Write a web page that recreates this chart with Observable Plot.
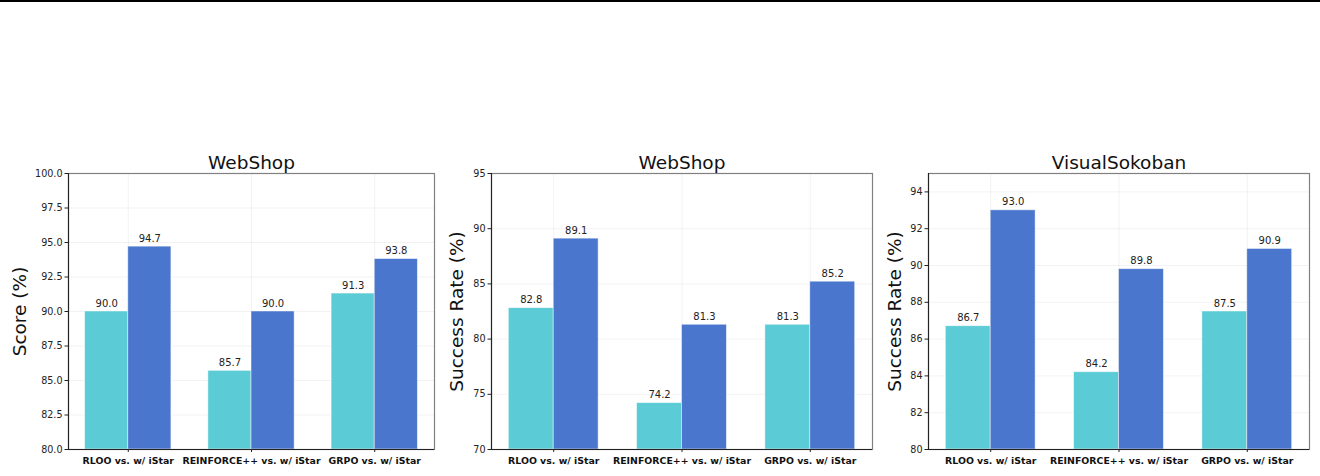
<!DOCTYPE html>
<html><head><meta charset="utf-8">
<script src="https://cdn.jsdelivr.net/npm/d3@7"></script>
<script src="https://cdn.jsdelivr.net/npm/@observablehq/plot@0.6"></script>
<style>
body{margin:0;background:#fff;font-family:"DejaVu Sans";width:1320px;height:476px;overflow:hidden;position:relative}
#topline{position:absolute;left:0;top:0;width:1320px;height:2px;background:#000}
.p{position:absolute;top:140px}
</style>
</head><body>
<div id="topline"></div>
<div id="c"></div>
<script>
const categories = ["RLOO vs. w/ iStar", "REINFORCE++ vs. w/ iStar", "GRPO vs. w/ iStar"];
const titles = ["WebShop", "WebShop", "VisualSokoban"];
const yLabels = ["Score (%)", "Success Rate (%)", "Success Rate (%)"];
const baselineValues = [[90.0, 85.7, 91.3], [82.8, 74.2, 81.3], [86.7, 84.2, 87.5]];
const iStarValues = [[94.7, 90.0, 93.8], [89.1, 81.3, 85.2], [93.0, 89.8, 90.9]];
const yDomains = [[80, 100], [70, 95], [80, 95]];
const yTicks = [[80, 82.5, 85, 87.5, 90, 92.5, 95, 97.5, 100], [70, 75, 80, 85, 90, 95], [80, 82, 84, 86, 88, 90, 92, 94]];
const yTickFormats = [".1f", "d", "d"];

const colors = ["#5bcbd5", "#4a77cd"];
const barW = 0.35;
const layout = [
  {left: 0, ml: 68, mr: 6, labelDx: -48},
  {left: 440, ml: 51, mr: 8, labelDx: -34},
  {left: 880, ml: 48, mr: 11, labelDx: -33}
];

const container = document.getElementById("c");
for (let k = 0; k < 3; k++) {
  const rows = [];
  categories.forEach((c, i) => {
    rows.push({i, s: 0, v: baselineValues[k][i]});
    rows.push({i, s: 1, v: iStarValues[k][i]});
  });
  const ymin = yDomains[k][0];
  const L = layout[k];
  const x1 = d => d.i + (d.s === 0 ? -barW : 0);
  const x2 = d => x1(d) + barW;
  const plot = Plot.plot({
    width: 440,
    height: 336,
    marginLeft: L.ml,
    marginRight: L.mr,
    marginTop: 33,
    marginBottom: 27,
    style: {fontFamily: "DejaVu Sans", fontSize: "9.6px", color: "#222", background: "transparent"},
    x: {domain: [-0.485, 2.485]},
    y: {domain: yDomains[k]},
    marks: [
      Plot.gridY(yTicks[k], {stroke: "#000", strokeOpacity: 0.05}),
      Plot.gridX([0, 1, 2], {stroke: "#000", strokeOpacity: 0.05}),
      Plot.rectY(rows, {x1, x2, y1: ymin, y2: "v", fill: d => colors[d.s], stroke: "#fff", strokeOpacity: 0.6, strokeWidth: 0.8}),
      Plot.text(rows, {x: d => (x1(d) + x2(d)) / 2, y: "v", text: d => d.v.toFixed(1), lineAnchor: "bottom", dy: -5, fontSize: 10, fill: "#222"}),
      Plot.frame({stroke: "#808080", strokeWidth: 1.2}),
      Plot.ruleX([-0.485], {stroke: "#222", strokeWidth: 1.1}),
      Plot.ruleY([ymin], {stroke: "#222", strokeWidth: 1.1}),
      Plot.axisY({ticks: yTicks[k], tickFormat: d3.format(yTickFormats[k]), tickSize: 3.5, tickPadding: 2.5, label: null, fontSize: 9.6}),
      Plot.axisX({ticks: [0, 1, 2], tickFormat: i => categories[i], tickSize: 3, tickPadding: 5, label: null, fontSize: 9.4, fontWeight: "bold", fill: "#111"}),
      Plot.text([titles[k]], {frameAnchor: "top", lineAnchor: "bottom", dy: -5, fontSize: 18.5, fill: "#111"}),
      Plot.text([yLabels[k]], {frameAnchor: "left", textAnchor: "middle", rotate: -90, dx: L.labelDx, fontSize: 18.5, fill: "#111"})
    ]
  });
  const wrap = document.createElement("div");
  wrap.className = "p";
  wrap.style.left = L.left + "px";
  wrap.appendChild(plot);
  container.appendChild(wrap);
}
</script>
</body></html>
